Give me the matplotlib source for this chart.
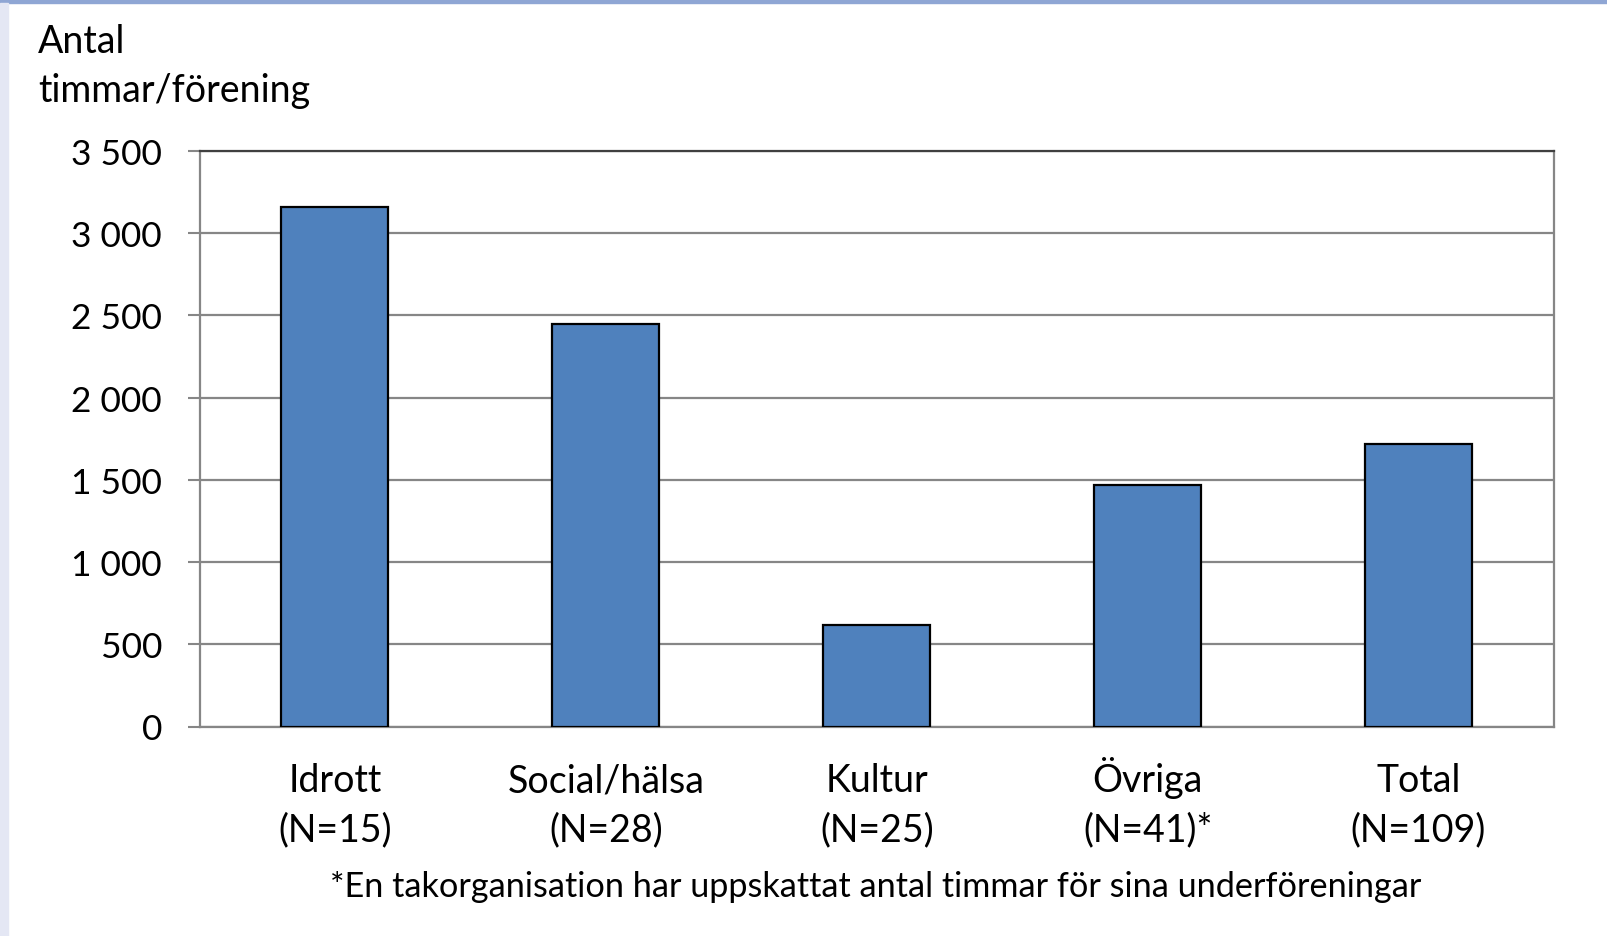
import matplotlib.pyplot as plt
from matplotlib.patches import Rectangle
from matplotlib.ticker import FuncFormatter
from matplotlib.transforms import blended_transform_factory

plt.rcParams['font.family'] = ['Lato', 'DejaVu Sans']

# data
names = ['Idrott', 'Social/hälsa', 'Kultur', 'Övriga', 'Total']
counts = ['(N=15)', '(N=28)', '(N=25)', '(N=41)*', '(N=109)']
hours = [3160, 2450, 620, 1470, 1720]
yticks = [0, 500, 1000, 1500, 2000, 2500, 3000, 3500]

W, H = 1607, 937
fig = plt.figure(figsize=(W / 100, H / 100), dpi=100)
ax = fig.add_axes([199.5 / W, 1 - 727.5 / H, (1554 - 199.5) / W, (727.5 - 152) / H])

# decorative slide background bits
fig.patches.append(Rectangle((0, 1 - 4 / H), 1, 4 / H, transform=fig.transFigure,
                             color='#8FA6D4', zorder=0))
fig.patches.append(Rectangle((0, 0), 8 / W, 1 - 4 / H, transform=fig.transFigure,
                             color='#E4E7F4', zorder=0))

x = list(range(len(names)))
ax.bar(x, hours, width=0.395, color='#4F81BD', edgecolor='black', linewidth=1.6, zorder=3)

ax.set_xlim(-0.5, len(names) - 0.5)
ax.set_ylim(0, 3500)
ax.set_yticks(yticks)
ax.yaxis.set_major_formatter(FuncFormatter(lambda v, p: f'{int(v):,}'.replace(',', ' ')))
ax.set_xticks(x)
ax.set_xticklabels([])
ax.tick_params(axis='x', length=0)
ax.tick_params(axis='y', labelsize=25.5, length=9, width=1.5, color='#868686', pad=18, direction='out')

# category labels, two lines each
tr = blended_transform_factory(ax.transData, fig.transFigure)
for xi, n, c in zip(x, names, counts):
    ax.text(xi, 1 - 792 / H, n, transform=tr, fontsize=27, ha='center', va='baseline')
    ax.text(xi, 1 - 841 / H, c, transform=tr, fontsize=27, ha='center', va='baseline')

ax.grid(axis='y', color='#868686', linewidth=1.6, zorder=0)
for s in ['left', 'bottom', 'right']:
    ax.spines[s].set_color('#868686')
    ax.spines[s].set_linewidth(1.6)
ax.spines['top'].set_color('#404040')
ax.spines['top'].set_linewidth(1.6)

fig.text(38 / W, 1 - 53 / H, 'Antal', fontsize=27, ha='left', va='baseline')
fig.text(38 / W, 1 - 102 / H, 'timmar/förening', fontsize=27, ha='left', va='baseline')
fig.text(876 / W, 1 - 897 / H,
         '*En takorganisation har uppskattat antal timmar för sina underföreningar',
         fontsize=24.7, ha='center', va='baseline')

fig.savefig('out.png', dpi=100)
